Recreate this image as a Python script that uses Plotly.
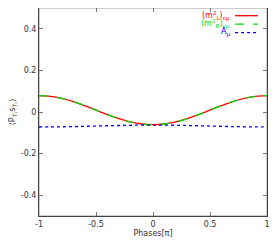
import plotly.graph_objects as go

phases = [-1.0, -0.9, -0.8, -0.7, -0.6, -0.5, -0.4, -0.3, -0.2, -0.1, 0.0,
          0.1, 0.2, 0.3, 0.4, 0.5, 0.6, 0.7, 0.8, 0.9, 1.0]
m2L = [0.079, 0.0756, 0.0656, 0.0502, 0.0306, 0.009, -0.0126, -0.0322, -0.0476, -0.0576, -0.061,
       -0.0576, -0.0476, -0.0322, -0.0126, 0.009, 0.0306, 0.0502, 0.0656, 0.0756, 0.079]
m2R = [0.079, 0.0756, 0.0656, 0.0502, 0.0306, 0.009, -0.0126, -0.0322, -0.0476, -0.0576, -0.061,
       -0.0576, -0.0476, -0.0322, -0.0126, 0.009, 0.0306, 0.0502, 0.0656, 0.0756, 0.079]
Amu = [-0.072, -0.0718, -0.0711, -0.0701, -0.0689, -0.0675, -0.0661, -0.0649, -0.0639, -0.0632, -0.063,
       -0.0632, -0.0639, -0.0649, -0.0661, -0.0675, -0.0689, -0.0701, -0.0711, -0.0718, -0.072]

names = ["(m<sup>2</sup><sub>L</sub>)<sub>εμ</sub>",
         "(m<sup>2</sup><sub>R</sub>)<sub>εμ</sub>",
         "A<sub>μ</sub>"]
colors = ["#ff0000", "#00dd00", "#0000ff"]
dashes = ["solid", "dash", "dot"]
series = [m2L, m2R, Amu]

fig = go.Figure()
for s, n, c, d in zip(series, names, colors, dashes):
    fig.add_trace(go.Scatter(x=phases, y=s, mode="lines", name=n,
                             line=dict(color=c, width=1.3, dash=d, shape="spline")))

# gnuplot-style legend (text right-aligned, sample on the right)
leg_y = [0.963, 0.922, 0.882]
for n, c, d, yy in zip(names, colors, dashes, leg_y):
    fig.add_annotation(xref="paper", yref="paper", x=0.845, y=yy, text=n,
                       showarrow=False, xanchor="right", yanchor="middle",
                       font=dict(size=8, color=c, family="DejaVu Sans"))
    fig.add_shape(type="line", xref="paper", yref="paper", x0=0.86, x1=0.96, y0=yy, y1=yy,
                  line=dict(color=c, width=1.3, dash=d))

fig.add_shape(type="rect", xref="paper", yref="paper", x0=0, x1=1, y0=0, y1=1,
              line=dict(color="#999999", width=1), layer="below")

axis_common = dict(showgrid=False, zeroline=False, showline=True, linecolor="#444444",
                   linewidth=1, mirror="ticks", ticks="inside", ticklen=4,
                   tickcolor="#777777", tickfont=dict(size=8, color="#333333", family="DejaVu Sans"))

# page body has an 8px margin, so the figure is sized/positioned to compensate
fig.update_layout(
    width=272, height=232,
    margin=dict(l=31, r=13, t=0, b=24),
    paper_bgcolor="white", plot_bgcolor="white",
    showlegend=False,
    xaxis=dict(range=[-1, 1], tickvals=[-1, -0.5, 0, 0.5, 1],
               ticktext=["-1", "-0.5", "0", "0.5", "1"],
               title=dict(text="Phases[π]", standoff=2,
                          font=dict(size=8, color="#333333", family="DejaVu Sans")),
               **axis_common),
    yaxis=dict(range=[-0.5, 0.5], tickvals=[-0.4, -0.2, 0, 0.2, 0.4],
               ticktext=["-0.4", "-0.2", "0", "0.2", "0.4"],
               title=dict(text="⟨P<sub>T₁</sub>s<sub>T₁</sub>⟩", standoff=6,
                          font=dict(size=8, color="#333333", family="DejaVu Sans")),
               **axis_common),
)

fig.write_html("out.html")
